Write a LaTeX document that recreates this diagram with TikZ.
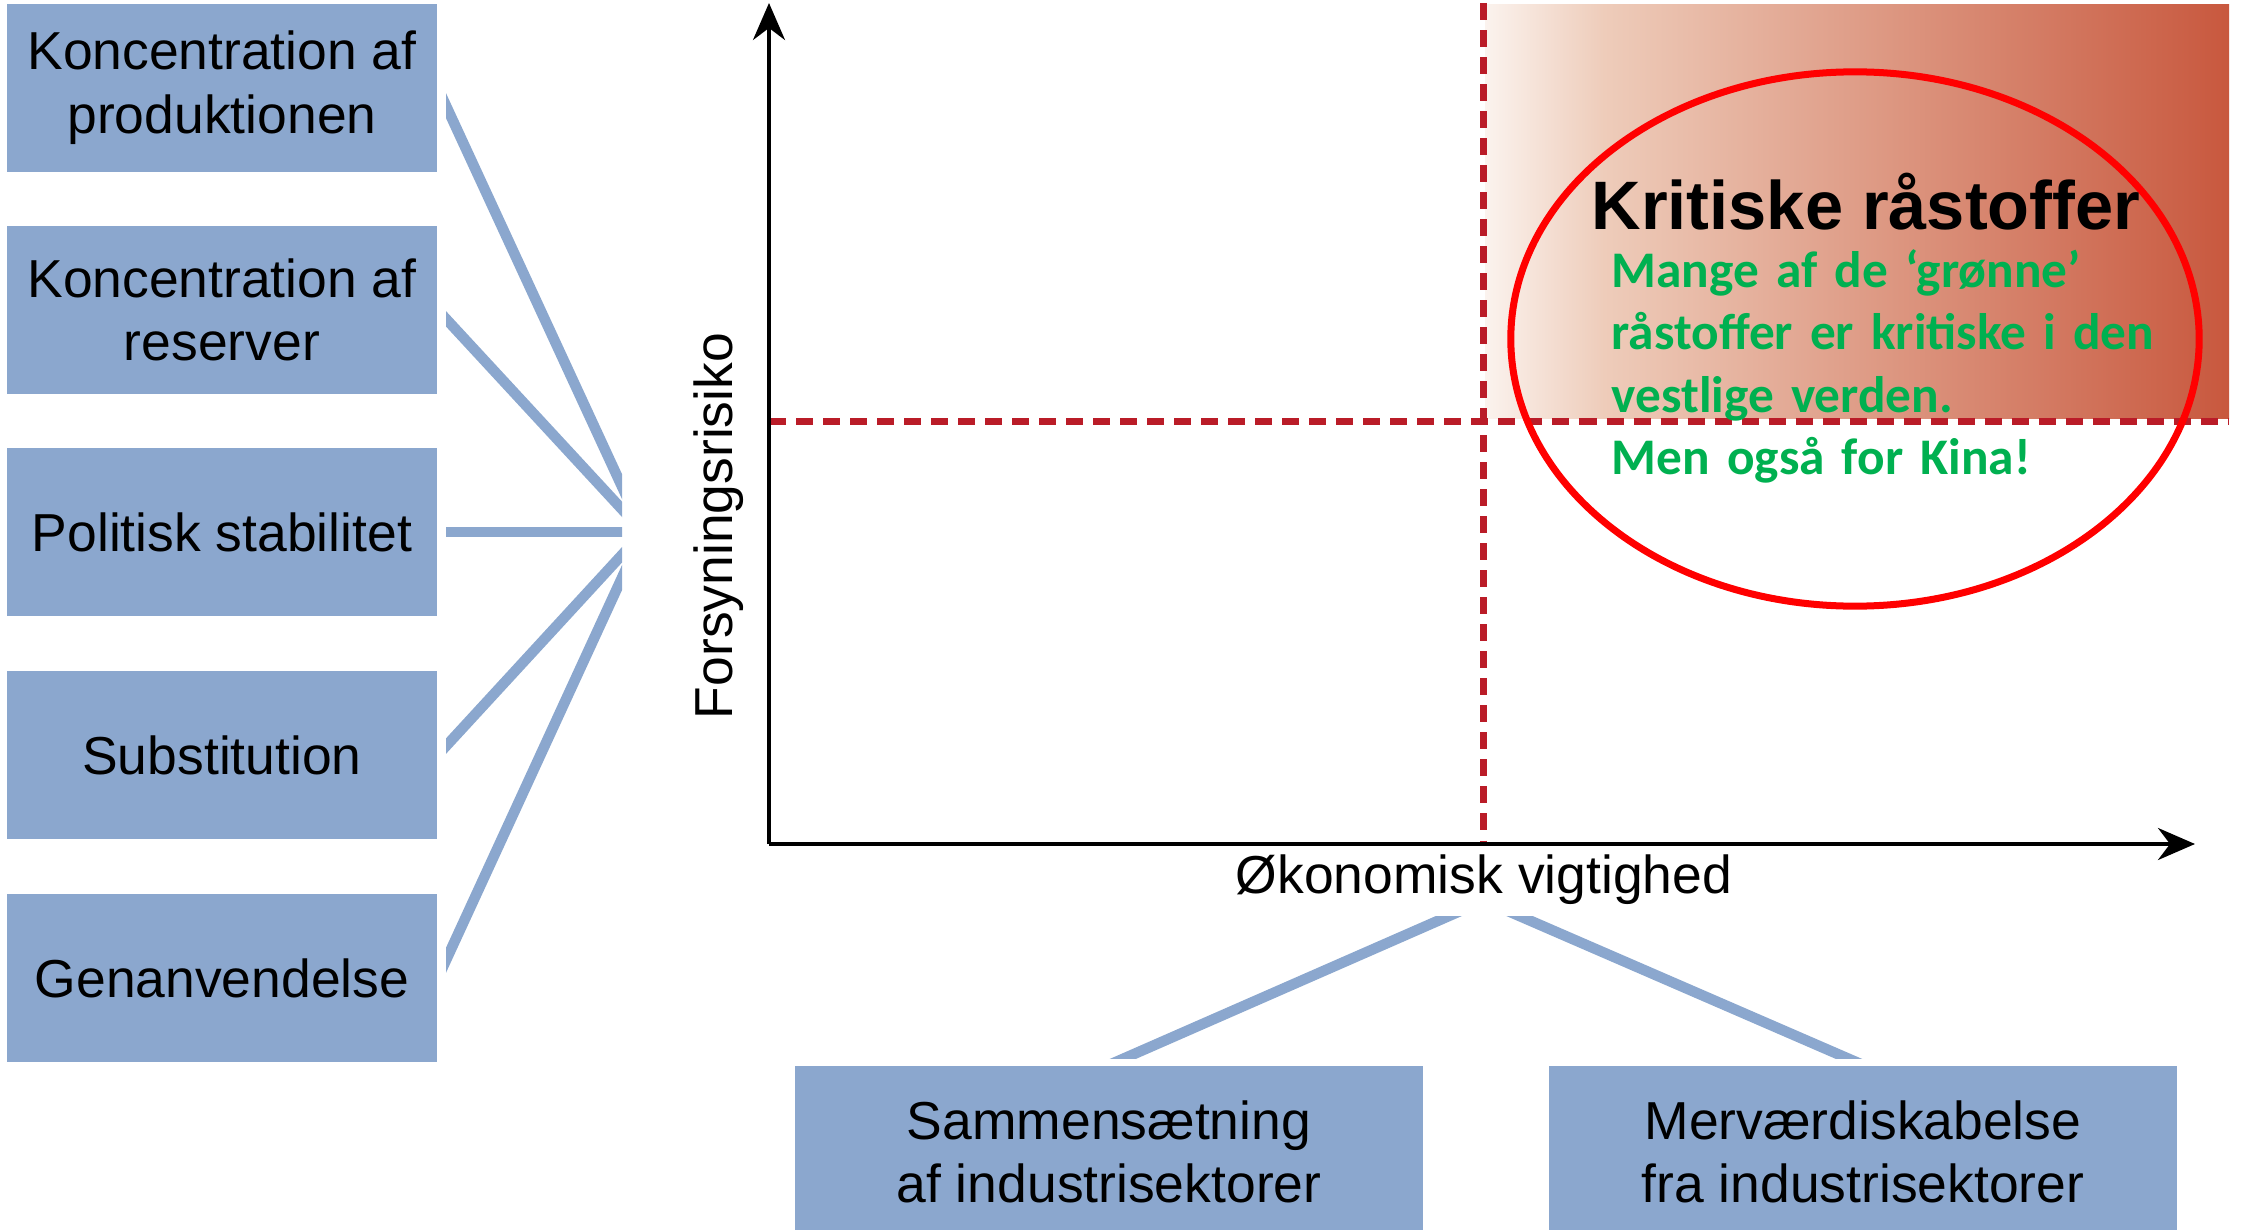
\documentclass[tikz,border=0pt]{standalone}
\usepackage{fontspec}
\setmainfont{Liberation Sans}
\newfontfamily\calibrifont{Carlito}
\usetikzlibrary{arrows.meta}

\definecolor{kasseblaa}{RGB}{139,167,206}
\definecolor{graense}{RGB}{186,28,40}
\definecolor{kritblid}{RGB}{251,243,238}
\definecolor{kritlys}{RGB}{238,204,186}
\definecolor{kritrod}{RGB}{200,88,62}
\definecolor{groen}{RGB}{0,176,80}

\pgfdeclarehorizontalshading{kritisk}{100bp}{color(0bp)=(kritblid); color(25bp)=(kritblid);
  color(33bp)=(kritlys); color(75bp)=(kritrod); color(100bp)=(kritrod)}

\tikzset{
  kasse/.style={fill=kasseblaa, minimum width=4.3cm, minimum height=1.67cm, inner sep=0pt,
    align=center, font=\fontsize{15.2}{18.1}\selectfont},
  bundkasse/.style={kasse, minimum width=6.28cm, minimum height=1.72cm, anchor=north},
  forbind/.style={kasseblaa, line width=0.105cm},
  graenselinje/.style={graense, line width=0.07cm, dash pattern=on 0.17cm off 0.1cm},
  akse/.style={line width=1pt, -{Stealth[length=0.37cm, width=0.32cm]}},
}

\begin{document}
\begin{tikzpicture}[x=0.01cm, y=-0.01cm]
        \useasboundingbox (0,0) rectangle (2241,1230);
        % kritisk felt
        \shade[shading=kritisk] (1485,4) rectangle (2229,418);
        \draw[graenselinje] (769,421) -- (2229,421);
        \draw[graenselinje] (1483,3) -- (1483,843);
        \draw[akse] (769,844) -- (769,3);
        \draw[akse] (769,844) -- (2195,844);
        \node[rotate=90, font=\fontsize{15.2}{18.1}\selectfont] (ylab) at (719,526) {Forsyningsrisiko};
        \node[inner sep=0pt, font=\fontsize{15.2}{18.1}\selectfont] (xlab) at (1484,880) {Økonomisk vigtighed};
        \draw[red, line width=0.07cm] (1855,339) ellipse [x radius=3.44cm, y radius=2.67cm];
        \node[anchor=base, inner sep=0pt, font=\fontsize{19.5}{22}\selectfont\bfseries] (titel) at (1866,229) {Kritiske råstoffer};
        \node[anchor=base west, inner sep=0pt, text width=6cm, align=left, text=groen,
          font=\calibrifont\fontsize{14.6}{17.8}\selectfont\bfseries] (groentekst) at (1611,287)
          {Mange af de ‘grønne’\\råstoffer er kritiske i den\\vestlige verden.\\Men også for Kina!};
        % faktorer for forsyningsrisiko
        \node[kasse] (prod) at (222,88) {Koncentration af\\produktionen};
        \node[kasse] (res) at (222,310) {Koncentration af\\reserver};
        \node[kasse] (pol) at (222,532) {Politisk stabilitet};
        \node[kasse] (sub) at (222,755) {Substitution};
        \node[kasse] (gen) at (222,978) {Genanvendelse};
        \coordinate (samling) at (643,532);
        \begin{scope}
          \clip (446,0) rectangle (622,1230);
          \draw[forbind] (prod.east) -- (samling);
          \draw[forbind] (res.east) -- (samling);
          \draw[forbind] (pol.east) -- (samling);
          \draw[forbind] (sub.east) -- (samling);
          \draw[forbind] (gen.east) -- (samling);
        \end{scope}
        % faktorer for oekonomisk vigtighed
        \node[bundkasse] (sam) at (1109,1065) {Sammensætning\\af industrisektorer};
        \node[bundkasse] (merv) at (1863,1065) {Merværdiskabelse\\fra industrisektorer};
        \begin{scope}
          \clip (700,916) rectangle (2241,1058);
          \draw[forbind] ([yshift=0.05cm]xlab.south) -- (sam.north);
          \draw[forbind] ([yshift=0.05cm]xlab.south) -- (merv.north);
        \end{scope}
\end{tikzpicture}
\end{document}
